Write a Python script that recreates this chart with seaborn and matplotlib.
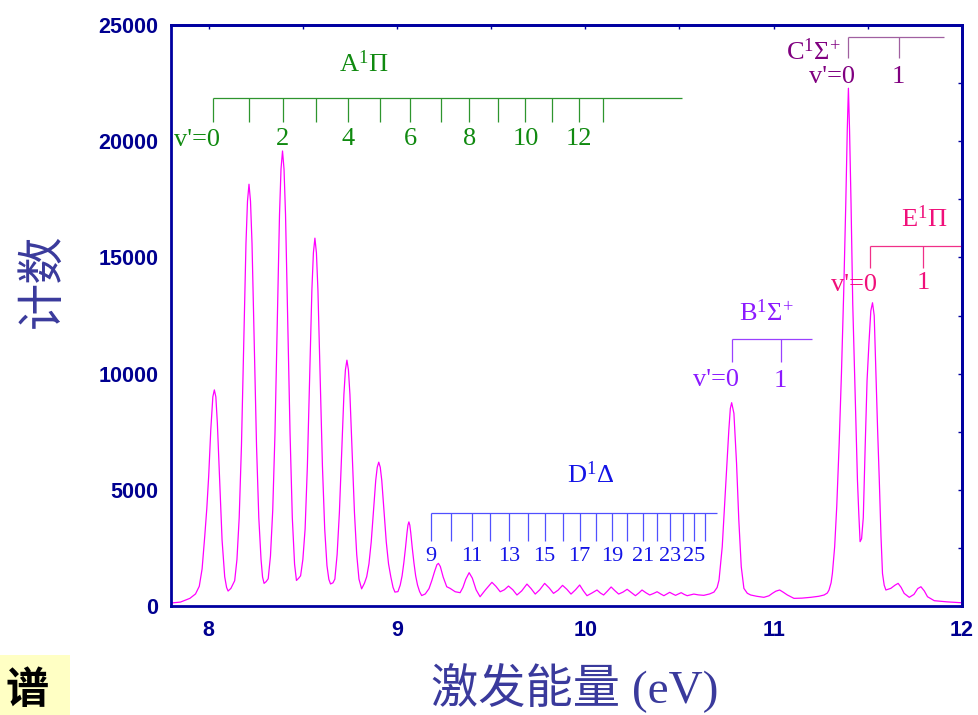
import matplotlib
matplotlib.use("Agg")
import matplotlib.pyplot as plt
import seaborn as sns
import pandas as pd
from matplotlib.ticker import MultipleLocator, NullFormatter, StrMethodFormatter
from matplotlib.patches import Rectangle

# ---------------- data ----------------
energy_ev = [
    7.800, 7.850, 7.900, 7.930, 7.950, 7.965, 7.979, 7.990, 8.000, 8.011, 8.022, 8.030, 8.038, 8.046,
    8.058, 8.071, 8.085, 8.095, 8.103, 8.118, 8.138, 8.150, 8.162, 8.174, 8.186, 8.198, 8.206, 8.214,
    8.222, 8.230, 8.242, 8.254, 8.266, 8.278, 8.286, 8.294, 8.305, 8.316, 8.328, 8.340, 8.352, 8.364,
    8.376, 8.384, 8.392, 8.400, 8.408, 8.420, 8.432, 8.444, 8.456, 8.466, 8.478, 8.488, 8.500, 8.512,
    8.524, 8.536, 8.548, 8.556, 8.564, 8.572, 8.580, 8.592, 8.604, 8.616, 8.628, 8.638, 8.647, 8.660,
    8.670, 8.682, 8.694, 8.706, 8.718, 8.726, 8.734, 8.742, 8.750, 8.762, 8.774, 8.786, 8.798, 8.812,
    8.827, 8.839, 8.851, 8.863, 8.875, 8.887, 8.895, 8.903, 8.911, 8.919, 8.931, 8.943, 8.955, 8.967,
    8.979, 8.989, 9.005, 9.017, 9.027, 9.036, 9.045, 9.053, 9.058, 9.063, 9.068, 9.073, 9.081, 9.090,
    9.099, 9.109, 9.120, 9.131, 9.150, 9.170, 9.185, 9.200, 9.212, 9.220, 9.230, 9.245, 9.264, 9.282,
    9.309, 9.335, 9.350, 9.365, 9.383, 9.400, 9.420, 9.441, 9.470, 9.504, 9.525, 9.548, 9.570, 9.592,
    9.615, 9.637, 9.662, 9.690, 9.712, 9.734, 9.758, 9.784, 9.808, 9.831, 9.855, 9.879, 9.902, 9.924,
    9.948, 9.970, 9.990, 10.009, 10.035, 10.062, 10.080, 10.097, 10.117, 10.137, 10.157, 10.177, 10.200,
    10.222, 10.244, 10.266, 10.284, 10.301, 10.322, 10.342, 10.362, 10.381, 10.400, 10.417, 10.433,
    10.448, 10.464, 10.479, 10.494, 10.509, 10.525, 10.541, 10.558, 10.576, 10.600, 10.629, 10.660,
    10.683, 10.700, 10.710, 10.727, 10.745, 10.762, 10.770, 10.777, 10.789, 10.803, 10.815, 10.828,
    10.842, 10.860, 10.878, 10.910, 10.948, 10.975, 10.993, 11.012, 11.032, 11.050, 11.073, 11.108,
    11.150, 11.197, 11.240, 11.268, 11.285, 11.294, 11.305, 11.312, 11.324, 11.335, 11.348, 11.360,
    11.372, 11.383, 11.391, 11.397, 11.403, 11.411, 11.420, 11.431, 11.445, 11.452, 11.459, 11.467,
    11.476, 11.486, 11.496, 11.506, 11.516, 11.525, 11.534, 11.543, 11.552, 11.561, 11.570, 11.578,
    11.587, 11.596, 11.622, 11.645, 11.661, 11.677, 11.693, 11.720, 11.745, 11.765, 11.782, 11.800,
    11.817, 11.853, 11.920, 12.000,
]
counts = [
    130, 170, 330, 520, 850, 1600, 3000, 4200, 5600, 7570, 9000, 9300, 9000, 7870,
    5420, 2840, 1260, 800, 645, 760, 1090, 2000, 3810, 6900, 11250, 15610, 17420, 18150,
    17420, 15610, 11250, 6900, 3810, 2000, 1250, 975, 1050, 1175, 2150, 4110, 7440, 12140,
    16840, 18800, 19580, 18800, 16840, 12140, 7440, 3800, 1800, 1100, 1200, 1300, 2000, 3320,
    6015, 9810, 13610, 15200, 15830, 15200, 13610, 9810, 6015, 3320, 1740, 1150, 950, 1000,
    1160, 2220, 4020, 6560, 9100, 10160, 10580, 10160, 9100, 6560, 4020, 2220, 1160, 740,
    980, 1260, 1815, 2755, 4080, 5410, 5970, 6190, 5970, 5410, 4080, 2755, 1815, 1260,
    800, 600, 620, 900, 1300, 1850, 2500, 3150, 3480, 3620, 3480, 3150, 2500, 1850,
    1300, 900, 620, 450, 520, 750, 1100, 1500, 1780, 1835, 1700, 1250, 830, 760,
    615, 575, 800, 1150, 1435, 1200, 700, 400, 700, 1020, 850, 615, 700, 860,
    700, 475, 650, 945, 750, 515, 700, 975, 780, 545, 680, 890, 720, 515,
    700, 905, 650, 445, 560, 690, 560, 475, 640, 820, 660, 515, 600,
    720, 580, 445, 560, 690, 570, 475, 540, 615, 520, 445, 520,
    590, 520, 460, 520, 575, 500, 445, 480, 515, 480, 460, 520,
    600, 800, 1120, 2550, 5135, 7570, 8500, 8750, 8290, 6140, 3700, 1690,
    760, 550, 475, 420, 375, 440, 545, 640, 690, 600, 475, 330,
    340, 375, 420, 475, 560, 690, 1000, 1405, 2550, 4270, 7000, 10000,
    13500, 17300, 20500, 22280, 20500, 17300, 13000, 9700, 5420, 4000, 2770, 2900,
    3800, 6850, 9700, 11300, 12700, 13050, 12500, 10000, 7600, 5420, 3000, 1400,
    900, 690, 760, 900, 975, 800, 545, 375, 500, 750, 830, 650,
    400, 230, 180, 140,
]

# vibrational level energies (eV)
a_levels = [8.025, 8.214, 8.393, 8.572, 8.739, 8.910, 9.071, 9.231, 9.384, 9.535, 9.682, 9.824, 9.964, 10.093]
a_numbers = ["v'=0", "", "2", "", "4", "", "6", "", "8", "", "10", "", "12", ""]
d_levels = [9.179, 9.287, 9.397, 9.495, 9.596, 9.695, 9.784, 9.879, 9.970, 10.059, 10.142, 10.222,
            10.305, 10.378, 10.449, 10.518, 10.577, 10.635]
d_numbers = ["9", "", "11", "", "13", "", "15", "", "17", "", "19", "", "21", "", "23", "", "25", ""]
b_levels = [10.777, 11.037]
c_levels = [11.397, 11.663]
e_levels = [11.512, 11.794]

# ---------------- style ----------------
sns.set_theme(style="white")
plt.rcParams["font.family"] = ["Liberation Serif", "DejaVu Serif"]
plt.rcParams["mathtext.fontset"] = "custom"
plt.rcParams["mathtext.rm"] = "Liberation Serif"
plt.rcParams["mathtext.it"] = "Liberation Serif:italic"
plt.rcParams["mathtext.bf"] = "Liberation Serif:bold"

AXIS_BLUE = "#0000a0"
LABEL_BLUE = "#000090"

fig = plt.figure(figsize=(9.79, 7.15), dpi=100)
ax = fig.add_axes([0.1747, 0.1524, 0.8079, 0.8126])

df = pd.DataFrame({"energy": energy_ev, "counts": counts})
sns.lineplot(data=df, x="energy", y="counts", ax=ax, color="#ff00ff", linewidth=0.9,
             estimator=None, sort=False)

ax.set_xlim(7.8, 12.0)
ax.set_ylim(0, 25000)
ax.set_xlabel("")
ax.set_ylabel("")
ax.xaxis.set_major_locator(MultipleLocator(1))
ax.xaxis.set_minor_locator(MultipleLocator(0.5))
ax.yaxis.set_major_locator(MultipleLocator(5000))
ax.yaxis.set_minor_locator(MultipleLocator(2500))
ax.yaxis.set_major_formatter(StrMethodFormatter("{x:.0f}"))
ax.tick_params(which="both", direction="in", length=8, width=1.6, color=AXIS_BLUE,
               top=False, right=False)
ax.tick_params(axis="y", pad=9)
ax.tick_params(axis="x", pad=10)
for lab in ax.get_xticklabels() + ax.get_yticklabels():
    lab.set_family(["Liberation Sans", "DejaVu Sans"])
    lab.set_fontweight("bold")
    lab.set_fontsize(15.5)
    lab.set_color(LABEL_BLUE)
for sp in ax.spines.values():
    sp.set_color(AXIS_BLUE)
    sp.set_linewidth(2.0)

# small ticks on top and right
secx = ax.secondary_xaxis("top")
secx.xaxis.set_major_locator(MultipleLocator(0.5))
secx.xaxis.set_major_formatter(NullFormatter())
secx.tick_params(direction="in", length=3, width=1.0, color=AXIS_BLUE)
secx.spines["top"].set_color(AXIS_BLUE)
secx.spines["top"].set_linewidth(2.0)
secy = ax.secondary_yaxis("right")
secy.yaxis.set_major_locator(MultipleLocator(2500))
secy.yaxis.set_major_formatter(NullFormatter())
secy.tick_params(direction="in", length=3, width=1.0, color=AXIS_BLUE)
secy.spines["right"].set_color(AXIS_BLUE)
secy.spines["right"].set_linewidth(2.0)


def bracket(levels, line_y, tick_bottom, line_end, color):
    ax.hlines(line_y, levels[0], line_end, color=color, linewidth=0.9)
    ax.vlines(levels, tick_bottom, line_y, color=color, linewidth=0.9)


def vlabel(x, y, text, color, size=19):
    ax.annotate(text, (x, y), xytext=(5, 0), textcoords="offset points",
                ha="right", va="center", color=color, fontsize=size)


# A1Π progression
A_COL = "#108a10"
bracket(a_levels, 21880, 20840, 10.514, "#2e952e")
for lv, t in zip(a_levels, a_numbers):
    if t == "v'=0":
        vlabel(lv, 20050, t, A_COL)
    elif t:
        ax.text(lv, 20100, t, ha="center", va="center", color=A_COL, fontsize=19)
ax.text(8.824, 23320, r"A$^{\mathrm{1}}$Π", ha="center", va="center", color=A_COL, fontsize=19)

# D1Δ progression
D_COL = "#1414e6"
bracket(d_levels, 4015, 2810, 10.70, "#5050ff")
for lv, t in zip(d_levels, d_numbers):
    if t:
        ax.text(lv, 2110, t, ha="center", va="center", color=D_COL, fontsize=16)
ax.text(10.027, 5640, r"D$^{\mathrm{1}}$Δ", ha="center", va="center", color=D_COL, fontsize=19)

# B1Σ+
B_COL = "#8c1aff"
bracket(b_levels, 11475, 10510, 11.202, "#9a40ff")
vlabel(b_levels[0], 9725, "v'=0", B_COL)
ax.text(b_levels[1], 9680, "1", ha="center", va="center", color=B_COL, fontsize=19)
ax.text(10.963, 12610, r"B$^{\mathrm{1}}$Σ$^{\mathrm{+}}$", ha="center", va="center",
        color=B_COL, fontsize=19)

# C1Σ+
C_COL = "#800080"
bracket(c_levels, 24500, 23570, 11.906, "#a060a0")
vlabel(c_levels[0], 22760, "v'=0", C_COL)
ax.text(c_levels[1], 22760, "1", ha="center", va="center", color=C_COL, fontsize=19)
ax.text(11.356, 23840, r"C$^{\mathrm{1}}$Σ$^{\mathrm{+}}$", ha="right", va="center",
        color=C_COL, fontsize=19)

# E1Π
E_COL = "#f0107a"
bracket(e_levels, 15490, 14530, 12.0, "#f03088")
vlabel(e_levels[0], 13810, "v'=0", E_COL)
ax.text(e_levels[1], 13900, "1", ha="center", va="center", color=E_COL, fontsize=19)
ax.text(11.798, 16650, r"E$^{\mathrm{1}}$Π", ha="center", va="center", color=E_COL, fontsize=19)

# axis titles
fig.text(0.043, 0.608, "计数", rotation=90, ha="center", va="center", fontsize=34,
         color="#3a3a9c", family=["Noto Sans CJK SC", "DejaVu Sans"], fontweight="light")
fig.text(0.587, 0.037, "激发能量 (eV)", ha="center", va="center", fontsize=34,
         color="#3a3a9c", family=["Liberation Serif", "Noto Sans CJK SC"], fontweight="light")

# corner label
fig.patches.append(Rectangle((0, 0), 70 / 979, 60 / 715, transform=fig.transFigure,
                             facecolor="#ffffc4", edgecolor="none", zorder=0))
fig.text(0.006, 0.004, "谱", ha="left", va="bottom", fontsize=31, color="black",
         fontweight="bold", family=["Noto Sans CJK SC", "DejaVu Sans"])

fig.savefig("out.png", dpi=100)
